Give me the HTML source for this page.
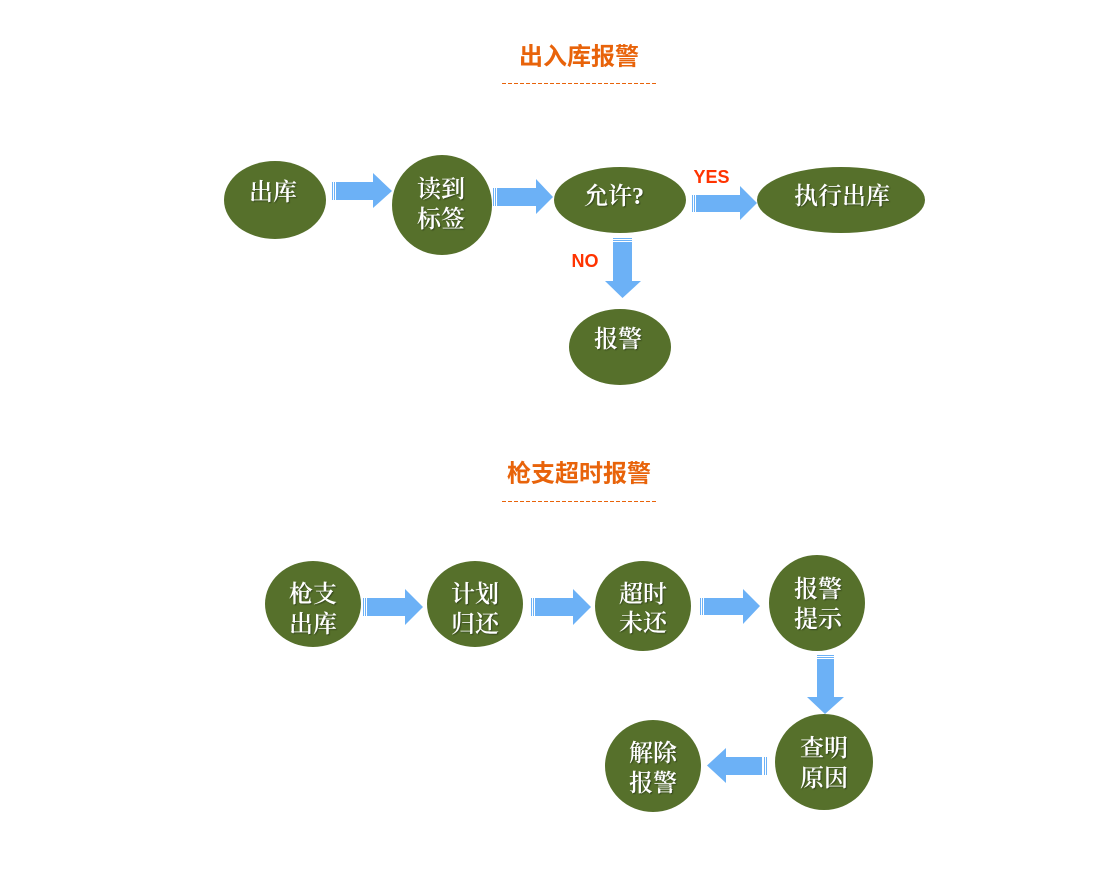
<!DOCTYPE html>
<html>
<head>
<meta charset="utf-8">
<style>
  html,body{margin:0;padding:0;background:#fff;}
  body{width:1106px;height:880px;overflow:hidden;}
  svg{display:block;}
  .t{font-family:"Liberation Sans","Noto Sans CJK SC",sans-serif;font-weight:bold;font-size:24px;fill:#e8630a;}
  .n{font-family:"Liberation Serif","Noto Serif CJK SC",serif;font-size:24px;font-weight:600;fill:#fff;}
  .lbl{font-family:"Liberation Sans",sans-serif;font-weight:bold;font-size:18px;fill:#ff3300;}
</style>
</head>
<body>
<svg width="1106" height="880" viewBox="0 0 1106 880" xmlns="http://www.w3.org/2000/svg">
  <defs>
    <filter id="sh" x="-10%" y="-10%" width="120%" height="120%">
      <feDropShadow dx="1" dy="1" stdDeviation="0.4" flood-color="#2c3a14" flood-opacity="0.8"/>
    </filter>
  </defs>

  <!-- Title 1 -->
  <text class="t" x="579" y="57" text-anchor="middle" dominant-baseline="central">出入库报警</text>
  <line x1="502" y1="83.5" x2="656" y2="83.5" stroke="#e8630a" stroke-width="1" stroke-dasharray="4,2" shape-rendering="crispEdges"/>

  <!-- Title 2 -->
  <text class="t" x="579" y="474" text-anchor="middle" dominant-baseline="central">枪支超时报警</text>
  <line x1="502" y1="501.5" x2="656" y2="501.5" stroke="#e8630a" stroke-width="1" stroke-dasharray="4,2" shape-rendering="crispEdges"/>

  <g fill="#56702b">
    <ellipse cx="275" cy="200" rx="51" ry="39"/>
    <ellipse cx="442" cy="205" rx="50" ry="50"/>
    <ellipse cx="620" cy="200" rx="66" ry="33"/>
    <ellipse cx="841" cy="200" rx="84" ry="33"/>
    <ellipse cx="620" cy="347" rx="51" ry="38"/>

    <ellipse cx="313" cy="604" rx="48" ry="43"/>
    <ellipse cx="475" cy="604" rx="48" ry="43"/>
    <ellipse cx="643" cy="606" rx="48" ry="45"/>
    <ellipse cx="817" cy="603" rx="48" ry="48"/>
    <ellipse cx="824" cy="762" rx="49" ry="48"/>
    <ellipse cx="653" cy="766" rx="48" ry="46"/>
  </g>

  <g fill="#6cb1f6">
    <!-- Right arrow 1 -->
    <rect x="332" y="182" width="1" height="18"/><rect x="334" y="182" width="1" height="18"/>
    <polygon points="336,182 373,182 373,173 392,191 373,208 373,200 336,200"/>
    <!-- Right arrow 2 -->
    <rect x="493" y="188" width="1" height="18"/><rect x="495" y="188" width="1" height="18"/>
    <polygon points="497,188 536,188 536,179 553,197 536,214 536,206 497,206"/>
    <!-- YES arrow -->
    <rect x="692" y="195" width="1" height="17"/><rect x="694" y="195" width="1" height="17"/>
    <polygon points="696,195 740,195 740,186 757,203 740,220 740,212 696,212"/>
    <!-- NO down arrow -->
    <rect x="613" y="238" width="19" height="1"/><rect x="613" y="240" width="19" height="1"/>
    <polygon points="613,242 632,242 632,281 641,281 622.5,298 605,281 613,281"/>

    <!-- Row 2 arrows -->
    <rect x="363" y="598" width="1" height="18"/><rect x="365" y="598" width="1" height="18"/>
    <polygon points="367,598 405,598 405,589 423,607 405,625 405,616 367,616"/>
    <rect x="531" y="598" width="1" height="18"/><rect x="533" y="598" width="1" height="18"/>
    <polygon points="535,598 573,598 573,589 591,607 573,625 573,616 535,616"/>
    <rect x="700" y="598" width="1" height="17"/><rect x="702" y="598" width="1" height="17"/>
    <polygon points="704,598 743,598 743,589 760,606 743,624 743,615 704,615"/>
    <!-- Down arrow 2 -->
    <rect x="817" y="655" width="17" height="1"/><rect x="817" y="657" width="17" height="1"/>
    <polygon points="817,659 834,659 834,697 844,697 825,714 807,697 817,697"/>
    <!-- Left arrow -->
    <rect x="766" y="757" width="1" height="18"/><rect x="764" y="757" width="1" height="18"/>
    <polygon points="762,757 726,757 726,748 707,765.5 726,783 726,775 762,775"/>
  </g>

  <!-- Labels -->
  <text class="lbl" x="711.5" y="183" text-anchor="middle">YES</text>
  <text class="lbl" x="585" y="267" text-anchor="middle">NO</text>

  <!-- Node text -->
  <g class="n" text-anchor="middle" dominant-baseline="central" filter="url(#sh)">
    <text x="273" y="193">出库</text>
    <text x="441" y="190">读到</text>
    <text x="441" y="220">标签</text>
    <text x="614" y="197">允许?</text>
    <text x="842" y="197">执行出库</text>
    <text x="618" y="340">报警</text>

    <text x="313" y="595">枪支</text>
    <text x="313" y="625">出库</text>
    <text x="475" y="595">计划</text>
    <text x="475" y="625">归还</text>
    <text x="643" y="595">超时</text>
    <text x="643" y="624">未还</text>
    <text x="818" y="590">报警</text>
    <text x="818" y="620">提示</text>
    <text x="824" y="749">查明</text>
    <text x="824" y="779">原因</text>
    <text x="653" y="754">解除</text>
    <text x="653" y="784">报警</text>
  </g>
</svg>
</body>
</html>
